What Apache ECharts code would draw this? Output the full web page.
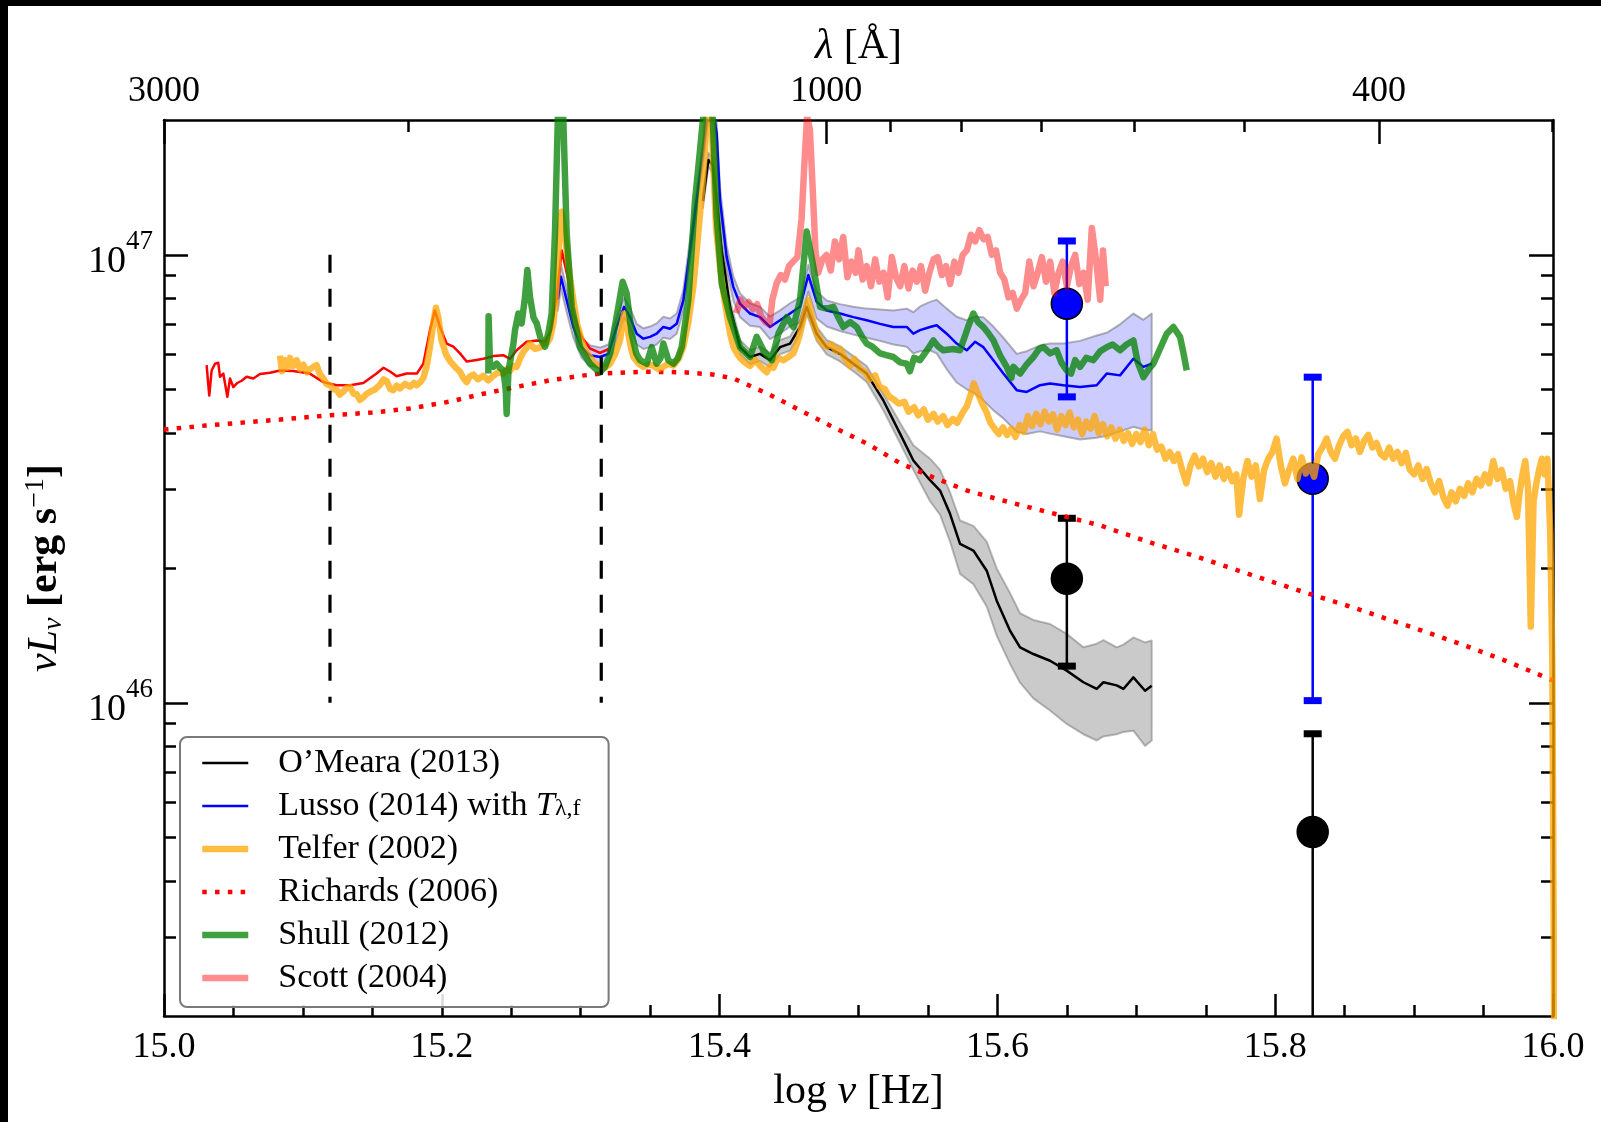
<!DOCTYPE html>
<html>
<head>
<meta charset="utf-8">
<script src="https://cdn.jsdelivr.net/npm/echarts@6/dist/echarts.min.js"></script>
<style>
  html, body { margin: 0; padding: 0; background: #fff; }
  #chart { width: 1601px; height: 1122px; }
</style>
</head>
<body>
<div id="chart"></div>
<script>
// Quasar composite spectra: log nu [Hz] vs log10(nu L_nu [erg/s]).

// Richards (2006) mean SED
const richards = [[15.000,46.610],[15.030,46.619],[15.062,46.627],[15.090,46.634],[15.1195,46.642],[15.150,46.648],[15.177,46.657],[15.205,46.672],[15.230,46.690],[15.255,46.706],[15.278,46.720],[15.300,46.730],[15.314,46.735],[15.345,46.739],[15.374,46.738],[15.395,46.733],[15.410,46.724],[15.434,46.691],[15.458,46.653],[15.482,46.615],[15.506,46.579],[15.530,46.535],[15.554,46.503],[15.578,46.474],[15.600,46.455],[15.626,46.434],[15.650,46.415],[15.674,46.396],[15.712,46.356],[15.740,46.330],[15.767,46.302],[15.800,46.268],[15.828,46.240],[15.855,46.214],[15.878,46.190],[15.905,46.162],[15.933,46.132],[15.965,46.095],[16.000,46.050]];

// optical composite (thin red)
const opticalComposite = [[15.0307,46.754],[15.0316,46.720],[15.0326,46.686],[15.0343,46.742],[15.0367,46.757],[15.0391,46.759],[15.0403,46.728],[15.0427,46.735],[15.0456,46.683],[15.0475,46.724],[15.0499,46.705],[15.0528,46.714],[15.0559,46.719],[15.0595,46.728],[15.0643,46.724],[15.0691,46.734],[15.0763,46.737],[15.0835,46.742],[15.093,46.741],[15.105,46.735],[15.1147,46.716],[15.1243,46.709],[15.134,46.709],[15.1435,46.714],[15.153,46.735],[15.158,46.748],[15.163,46.739],[15.1675,46.729],[15.1747,46.735],[15.182,46.735],[15.1867,46.757],[15.1915,46.832],[15.195,46.876],[15.1987,46.839],[15.2035,46.802],[15.2083,46.795],[15.2131,46.780],[15.2179,46.762],[15.2239,46.765],[15.2299,46.768],[15.2371,46.774],[15.2443,46.776],[15.2491,46.768],[15.2539,46.787],[15.2611,46.806],[15.2683,46.809],[15.2743,46.806],[15.2791,46.835],[15.2832,46.921],[15.2863,47.010],[15.2911,46.944],[15.2947,46.869],[15.3007,46.817],[15.3067,46.791],[15.3139,46.781],[15.3211,46.791]];

// Telfer (2002)
const telfer = [[15.0835,46.775],[15.0850,46.740],[15.0870,46.765],[15.0890,46.748],[15.0907,46.770],[15.0930,46.752],[15.0955,46.765],[15.0980,46.745],[15.1003,46.755],[15.1030,46.738],[15.1051,46.745],[15.1075,46.750],[15.1099,46.754],[15.1120,46.735],[15.1147,46.724],[15.1170,46.712],[15.1195,46.709],[15.1220,46.700],[15.1243,46.699],[15.1265,46.688],[15.1291,46.695],[15.1315,46.703],[15.1339,46.705],[15.1365,46.690],[15.1387,46.689],[15.1410,46.676],[15.1435,46.682],[15.1460,46.690],[15.1483,46.694],[15.1520,46.700],[15.1555,46.710],[15.1580,46.722],[15.1603,46.718],[15.1630,46.700],[15.1651,46.698],[15.1675,46.708],[15.1699,46.702],[15.1735,46.712],[15.1771,46.706],[15.1800,46.714],[15.1819,46.709],[15.1845,46.716],[15.1867,46.725],[15.1890,46.750],[15.1915,46.795],[15.1940,46.850],[15.1958,46.882],[15.1975,46.860],[15.1999,46.809],[15.2030,46.778],[15.2059,46.763],[15.2095,46.750],[15.2131,46.739],[15.2155,46.725],[15.2179,46.716],[15.2200,46.728],[15.2227,46.733],[15.2260,46.722],[15.2299,46.730],[15.2335,46.720],[15.2371,46.730],[15.2405,46.738],[15.2443,46.735],[15.2470,46.745],[15.2491,46.741],[15.2515,46.752],[15.2539,46.750],[15.2565,46.770],[15.2587,46.783],[15.2610,46.792],[15.2635,46.802],[15.2670,46.790],[15.2707,46.793],[15.2735,46.805],[15.2755,46.802],[15.2780,46.815],[15.2803,46.847],[15.2820,46.900],[15.2835,46.980],[15.2850,47.060],[15.2863,47.096],[15.2880,47.060],[15.2899,47.010],[15.2925,46.945],[15.2947,46.899],[15.2975,46.845],[15.3007,46.809],[15.3035,46.785],[15.3067,46.772],[15.3100,46.758],[15.3139,46.750],[15.3175,46.748],[15.3211,46.757],[15.3250,46.780],[15.3283,46.809],[15.3300,46.850],[15.3312,46.869],[15.3328,46.850],[15.3343,46.824],[15.3360,46.795],[15.3379,46.772],[15.3415,46.758],[15.3451,46.750],[15.3490,46.755],[15.3523,46.753],[15.3560,46.745],[15.3595,46.750],[15.3630,46.757],[15.3667,46.753],[15.3705,46.768],[15.3739,46.795],[15.3775,46.850],[15.3811,46.929],[15.3835,47.010],[15.3859,47.092],[15.3880,47.170],[15.3895,47.234],[15.3910,47.330],[15.3925,47.400],[15.3940,47.330],[15.3955,47.197],[15.3975,47.060],[15.4003,46.973],[15.4030,46.910],[15.4051,46.869],[15.4075,46.825],[15.4099,46.795],[15.4125,46.780],[15.4147,46.770],[15.4180,46.760],[15.4219,46.752],[15.4255,46.765],[15.4291,46.752],[15.4315,46.745],[15.4339,46.738],[15.4365,46.752],[15.4387,46.748],[15.4420,46.770],[15.4459,46.765],[15.4495,46.772],[15.4531,46.780],[15.4555,46.800],[15.4579,46.824],[15.4605,46.860],[15.4639,46.899],[15.4665,46.860],[15.4699,46.824],[15.4735,46.805],[15.4771,46.795],[15.4805,46.800],[15.4840,46.785],[15.4867,46.790],
[15.490,46.770],[15.494,46.752],[15.497,46.768],[15.501,46.745],[15.505,46.738],[15.508,46.722],[15.512,46.731],[15.515,46.706],[15.519,46.700],[15.522,46.684],[15.526,46.676],[15.529,46.668],[15.533,46.672],[15.536,46.650],[15.540,46.660],[15.543,46.642],[15.547,46.655],[15.550,46.632],[15.554,46.645],[15.557,46.628],[15.561,46.640],[15.564,46.620],[15.568,46.634],[15.571,46.625],[15.575,46.648],[15.578,46.662],[15.581,46.690],[15.583,46.713],[15.586,46.690],[15.589,46.668],[15.592,46.650],[15.595,46.625],[15.598,46.612],[15.601,46.600],[15.604,46.615],[15.607,46.598],[15.610,46.612],[15.613,46.594],[15.616,46.620],[15.619,46.605],[15.622,46.640],[15.625,46.618],[15.628,46.645],[15.631,46.622],[15.634,46.650],[15.637,46.628],[15.640,46.644],[15.643,46.610],[15.646,46.640],[15.649,46.620],[15.652,46.648],[15.655,46.615],[15.658,46.632],[15.661,46.600],[15.664,46.628],[15.667,46.612],[15.670,46.640],[15.673,46.602],[15.676,46.622],[15.679,46.595],[15.682,46.615],[15.685,46.590],[15.688,46.610],[15.691,46.585],[15.694,46.602],[15.697,46.578],[15.700,46.600],[15.703,46.582],[15.706,46.610],[15.709,46.575],[15.712,46.600],[15.715,46.565],[15.718,46.572],[15.721,46.545],[15.724,46.560],[15.727,46.540],[15.730,46.555],[15.733,46.520],[15.736,46.490],[15.739,46.530],[15.742,46.552],[15.745,46.528],[15.748,46.545],[15.751,46.515],[15.754,46.535],[15.757,46.505],[15.760,46.530],[15.763,46.500],[15.766,46.522],[15.769,46.495],[15.772,46.510],[15.774,46.420],[15.777,46.500],[15.780,46.540],[15.783,46.505],[15.786,46.530],[15.789,46.455],[15.792,46.520],[15.795,46.545],[15.798,46.560],[15.801,46.590],[15.804,46.530],[15.807,46.490],[15.810,46.520],[15.813,46.545],[15.816,46.500],[15.819,46.548],[15.822,46.512],[15.825,46.530],[15.828,46.505],[15.831,46.555],[15.834,46.570],[15.837,46.590],[15.840,46.560],[15.843,46.545],[15.846,46.575],[15.849,46.595],[15.852,46.605],[15.855,46.575],[15.858,46.590],[15.861,46.560],[15.864,46.585],[15.867,46.598],[15.870,46.570],[15.873,46.580],[15.876,46.555],[15.879,46.548],[15.882,46.570],[15.885,46.545],[15.888,46.560],[15.891,46.535],[15.894,46.558],[15.897,46.520],[15.900,46.510],[15.903,46.530],[15.906,46.500],[15.909,46.522],[15.912,46.490],[15.915,46.470],[15.918,46.495],[15.921,46.460],[15.924,46.440],[15.927,46.470],[15.930,46.450],[15.933,46.478],[15.936,46.462],[15.939,46.490],[15.942,46.470],[15.945,46.500],[15.948,46.485],[15.951,46.510],[15.954,46.490],[15.957,46.540],[15.960,46.500],[15.963,46.520],[15.966,46.478],[15.969,46.495],[15.972,46.440],[15.974,46.415],[15.976,46.470],[15.978,46.510],[15.980,46.540],[15.982,46.480],[15.984,46.170],[15.986,46.450],[15.988,46.490],[15.990,46.520],[15.992,46.545],[15.994,46.510],[15.996,46.545],[15.998,46.380],[15.9995,46.100],[16.001,45.200]];

// Shull (2012)
const shull = [[15.2335,46.735],[15.2337,46.863],[15.2347,46.757],[15.2371,46.750],[15.2395,46.757],[15.2420,46.748],[15.2443,46.742],[15.2460,46.700],[15.2467,46.645],[15.2480,46.742],[15.2491,46.760],[15.2515,46.800],[15.2527,46.832],[15.2551,46.869],[15.2575,46.847],[15.2599,46.906],[15.2616,46.966],[15.2635,46.906],[15.2660,46.860],[15.2683,46.847],[15.2710,46.815],[15.2743,46.795],[15.2770,46.830],[15.2791,46.869],[15.2815,47.050],[15.2835,47.300],[15.2855,47.500],[15.2875,47.300],[15.2899,47.048],[15.2935,46.884],[15.2995,46.794],[15.3067,46.757],[15.3110,46.745],[15.3139,46.738],[15.3175,46.750],[15.3211,46.779],[15.3271,46.884],[15.3302,46.940],[15.3331,46.914],[15.3367,46.824],[15.3400,46.780],[15.3427,46.765],[15.3475,46.757],[15.3511,46.794],[15.3547,46.757],[15.3575,46.770],[15.3595,46.802],[15.3631,46.765],[15.3667,46.757],[15.3700,46.770],[15.3727,46.794],[15.3775,46.899],[15.3823,47.122],[15.3859,47.234],[15.3895,47.350],[15.3920,47.500],[15.3955,47.271],[15.3979,47.085],[15.4015,46.936],[15.4075,46.861],[15.4147,46.794],[15.4219,46.772],[15.4267,46.817],[15.4315,46.787],[15.4375,46.765],[15.4423,46.824],[15.4483,46.861],[15.4531,46.839],[15.4579,46.899],[15.4627,47.052],[15.4675,46.973],[15.4723,46.884],[15.4771,46.880],[15.4819,46.884],[15.4855,46.860],[15.4891,46.839],[15.4940,46.850],[15.4987,46.839],[15.5030,46.815],[15.5059,46.802],[15.5100,46.795],[15.5155,46.780],[15.5200,46.776],[15.5251,46.772],[15.5300,46.760],[15.5347,46.757],[15.5370,46.740],[15.5400,46.770],[15.5443,46.765],[15.5500,46.790],[15.5539,46.809],[15.5575,46.795],[15.5611,46.787],[15.5680,46.790],[15.5731,46.787],[15.5790,46.840],[15.5827,46.869],[15.5860,46.850],[15.5899,46.839],[15.5935,46.825],[15.5971,46.809],[15.6020,46.775],[15.6067,46.750],[15.6100,46.725],[15.6115,46.750],[15.6163,46.735],[15.6210,46.755],[15.6259,46.772],[15.6300,46.790],[15.6331,46.794],[15.6380,46.780],[15.6427,46.787],[15.6460,46.760],[15.6499,46.742],[15.6530,46.735],[15.6560,46.765],[15.6595,46.750],[15.6640,46.770],[15.6691,46.765],[15.6740,46.785],[15.6787,46.794],[15.6830,46.800],[15.6883,46.787],[15.6930,46.800],[15.6979,46.809],[15.7010,46.760],[15.7051,46.727],[15.7090,46.745],[15.7123,46.757],[15.7170,46.790],[15.7219,46.824],[15.7267,46.839],[15.7315,46.817],[15.7340,46.780],[15.7363,46.742]];

// Scott (2004)
const scott = [[15.412,46.870],[15.415,46.900],[15.418,46.885],[15.421,46.895],[15.424,46.878],[15.427,46.890],[15.430,46.862],[15.433,46.850],[15.436,46.845],[15.438,46.900],[15.441,46.936],[15.444,46.955],[15.447,46.945],[15.450,46.975],[15.453,46.985],[15.456,46.995],[15.459,47.080],[15.461,47.200],[15.463,47.310],[15.465,47.280],[15.467,47.150],[15.469,47.010],[15.471,46.960],[15.474,46.990],[15.477,47.000],[15.480,46.965],[15.483,47.030],[15.486,46.990],[15.489,47.040],[15.492,46.950],[15.495,46.985],[15.498,46.960],[15.500,47.010],[15.503,46.945],[15.506,46.975],[15.509,46.930],[15.512,46.990],[15.515,46.940],[15.518,46.960],[15.521,46.905],[15.524,46.995],[15.527,46.950],[15.530,46.930],[15.533,46.975],[15.536,46.925],[15.539,46.965],[15.542,46.940],[15.545,46.975],[15.548,46.920],[15.551,46.960],[15.554,46.990],[15.557,46.995],[15.560,46.955],[15.563,46.975],[15.566,46.935],[15.569,46.985],[15.572,46.960],[15.575,47.000],[15.578,47.010],[15.581,47.045],[15.584,47.030],[15.587,47.055],[15.590,47.035],[15.593,47.040],[15.596,47.000],[15.599,47.010],[15.602,46.960],[15.605,46.945],[15.608,46.905],[15.611,46.915],[15.614,46.880],[15.617,46.900],[15.620,46.915],[15.623,46.985],[15.626,46.930],[15.629,46.960],[15.632,46.995],[15.635,46.940],[15.638,46.985],[15.641,46.915],[15.644,46.960],[15.647,46.985],[15.650,46.930],[15.653,46.975],[15.656,47.000],[15.659,46.935],[15.662,46.960],[15.665,46.900],[15.668,47.060],[15.671,46.990],[15.674,46.900],[15.676,47.010],[15.678,46.930]];

// Lusso (2014) with T_lambda,f: mean, upper and lower envelope
const lussoNu = [15.2835,15.2858,15.2899,15.2947,15.3007,15.3067,15.3139,15.3199,15.3259,15.3312,15.3355,15.3403,15.3451,15.3499,15.3547,15.3595,15.3643,15.3691,15.3739,15.3787,15.3835,15.3883,15.3919,15.3950,15.3979,15.4003,15.4051,15.4099,15.4147,15.4219,15.4291,15.4363,15.4435,15.4507,15.4579,15.4639,15.4699,15.4771,15.4867,15.4963,15.5059,15.5155,15.5251,15.5347,15.5395,15.5443,15.5515,15.5563,15.5635,15.5707,15.5779,15.5839,15.5899,15.5971,15.6043,15.6139,15.6211,15.6307,15.6379,15.6475,15.6595,15.6715,15.6787,15.6883,15.6979,15.7051,15.7111];
const lussoL  = [46.900,46.951,46.899,46.839,46.794,46.776,46.772,46.779,46.839,46.884,46.861,46.824,46.813,46.817,46.824,46.839,46.835,46.846,46.899,47.010,47.122,47.234,47.330,47.330,47.271,47.122,46.995,46.928,46.891,46.869,46.861,46.839,46.854,46.869,46.884,46.955,46.895,46.876,46.869,46.861,46.854,46.846,46.839,46.839,46.824,46.832,46.839,46.843,46.824,46.802,46.787,46.806,46.794,46.765,46.735,46.698,46.694,46.709,46.713,46.709,46.705,46.709,46.735,46.731,46.768,46.750,46.757];
const lussoHi = [46.925,46.978,46.925,46.862,46.815,46.798,46.793,46.800,46.861,46.905,46.883,46.846,46.836,46.840,46.847,46.862,46.858,46.869,46.922,47.035,47.145,47.258,47.355,47.355,47.295,47.150,47.020,46.952,46.914,46.892,46.884,46.862,46.876,46.892,46.905,46.978,46.918,46.898,46.890,46.884,46.880,46.878,46.876,46.880,46.872,46.885,46.895,46.900,46.880,46.862,46.854,46.862,46.861,46.840,46.815,46.779,46.785,46.798,46.802,46.802,46.808,46.820,46.826,46.845,46.869,46.855,46.869];
const lussoLo = [46.875,46.925,46.872,46.815,46.770,46.752,46.748,46.755,46.812,46.860,46.838,46.800,46.790,46.794,46.800,46.815,46.812,46.824,46.875,46.985,47.098,47.210,47.305,47.300,47.240,47.095,46.968,46.898,46.861,46.842,46.839,46.812,46.824,46.840,46.850,46.918,46.858,46.840,46.830,46.822,46.815,46.808,46.800,46.795,46.780,46.785,46.787,46.780,46.745,46.715,46.700,46.690,46.675,46.653,46.635,46.605,46.600,46.606,46.601,46.595,46.588,46.592,46.596,46.606,46.616,46.610,46.608];

// O'Meara (2013): mean, upper and lower envelope
const omearaNu = [15.3880,15.3919,15.3950,15.3979,15.4015,15.4075,15.4147,15.4219,15.4291,15.4363,15.4435,15.4507,15.4579,15.4627,15.4699,15.4771,15.4867,15.4963,15.5059,15.5179,15.5299,15.5395,15.5515,15.5587,15.5659,15.5731,15.5827,15.5923,15.5995,15.6091,15.6163,15.6259,15.6379,15.6499,15.6619,15.6715,15.6763,15.6859,15.6907,15.6979,15.7063,15.7111];
const omearaL  = [47.120,47.212,47.200,47.122,47.010,46.884,46.794,46.772,46.779,46.765,46.794,46.802,46.839,46.884,46.824,46.794,46.779,46.757,46.735,46.675,46.601,46.541,46.497,46.474,46.422,46.355,46.340,46.295,46.228,46.161,46.124,46.109,46.094,46.072,46.046,46.031,46.046,46.039,46.031,46.057,46.027,46.038];
const omearaHi = [47.135,47.228,47.216,47.138,47.026,46.900,46.810,46.788,46.795,46.781,46.810,46.818,46.855,46.900,46.840,46.810,46.796,46.774,46.752,46.690,46.625,46.575,46.545,46.520,46.470,46.407,46.395,46.360,46.300,46.245,46.200,46.185,46.176,46.154,46.124,46.132,46.140,46.124,46.130,46.146,46.135,46.139];
const omearaLo = [47.105,47.196,47.184,47.106,46.994,46.868,46.778,46.756,46.763,46.749,46.778,46.786,46.823,46.868,46.808,46.778,46.762,46.740,46.716,46.653,46.580,46.520,46.450,46.420,46.360,46.288,46.265,46.215,46.150,46.087,46.045,46.010,45.983,45.953,45.930,45.916,45.925,45.930,45.935,45.938,45.904,45.916];

// single-band estimates: [log nu, value, lower, upper]
const estimatesBlue  = [[15.650, 46.891, 46.683, 47.031], [15.827, 46.500, 46.005, 46.727]];
const estimatesBlack = [[15.650, 46.277, 46.082, 46.412], [15.827, 45.712, 45.000, 45.931]];

// marked rest-frame positions (dashed)
const markerNu = [15.1195, 15.3148];
const markerRange = [47, 46];

// tick values
const lambdaMajor = [3000, 1000, 400];
const lambdaMinor = [2000, 900, 800, 700, 600, 500, 300];
const logLMajor = [46, 47];
const logLMinorFactors = [2, 3, 4, 5, 6, 7, 8, 9];

// ---------------------------------------------------------------------
const SERIF = '"Liberation Serif", "DejaVu Serif", "Times New Roman", serif';
const C_ANGSTROM = 2.99792458e18;
const X_MIN = 15, X_MAX = 16;
const Y_MIN = Math.log10(2e45), Y_MAX = Math.log10(2e47);
const nuOfLambda = l => Math.min(X_MAX, Math.max(X_MIN, Math.log10(C_ANGSTROM / l)));
const logLMinor = [];
[45, 46].forEach(e => logLMinorFactors.forEach(k => {
  const v = e + Math.log10(k);
  if (v > Y_MIN + 1e-6 && v < Y_MAX - 1e-6) logLMinor.push(v);
}));

const AX = { color: '#000', width: 2.5 };
const zip = (xs, ys) => xs.map((x, i) => [x, ys[i]]);

function lineSeries(name, data, color, width, z, extra) {
  return Object.assign({
    name, type: 'line', data, z, symbol: 'none', showSymbol: false, silent: true,
    itemStyle: { color }, lineStyle: { color, width, join: 'round', cap: 'butt' },
    emphasis: { disabled: true }
  }, extra || {});
}

function bandSeries(name, xs, hi, lo, fill, edge, z) {
  return {
    name, type: 'custom', coordinateSystem: 'cartesian2d', silent: true, z,
    data: xs.map((x, i) => [x, hi[i], lo[i]]),
    encode: { x: 0, y: [1, 2] },
    renderItem(params, api) {
      if (params.dataIndex !== 0) return null;
      const cs = params.coordSys;
      const pts = [];
      for (let i = 0; i < xs.length; i++) pts.push(api.coord([xs[i], hi[i]]));
      for (let i = xs.length - 1; i >= 0; i--) pts.push(api.coord([xs[i], lo[i]]));
      return {
        type: 'group',
        clipPath: { type: 'rect', shape: { x: cs.x, y: cs.y, width: cs.width, height: cs.height } },
        children: [{ type: 'polygon', shape: { points: pts },
          style: { fill, stroke: edge, lineWidth: 2, lineJoin: 'round' } }]
      };
    }
  };
}

function estimateSeries(name, rows, color, z) {
  return {
    name, type: 'custom', coordinateSystem: 'cartesian2d', silent: true, z,
    data: rows, encode: { x: 0, y: [1, 2, 3] },
    renderItem(params, api) {
      const cs = params.coordSys;
      const x = api.value(0);
      const p = api.coord([x, api.value(1)]);
      const pLo = api.coord([x, api.value(2)]);
      const pHi = api.coord([x, api.value(3)]);
      const top = cs.y, bot = cs.y + cs.height;
      const kids = [{ type: 'line',
        shape: { x1: p[0], y1: Math.max(top, pHi[1]), x2: p[0], y2: Math.min(bot, pLo[1]) },
        style: { stroke: color, lineWidth: 2.5 } }];
      [pHi, pLo].forEach(c => {
        if (c[1] >= top && c[1] <= bot) kids.push({ type: 'rect',
          shape: { x: c[0] - 9, y: c[1] - 3.5, width: 18, height: 7 }, style: { fill: color } });
      });
      kids.push({ type: 'circle', shape: { cx: p[0], cy: p[1], r: 15.5 },
        style: { fill: color, stroke: '#000', lineWidth: 1.5 } });
      return { type: 'group', children: kids };
    }
  };
}

const COL = {
  omeara: '#000000', lusso: '#0000ff', telfer: 'rgba(255,165,0,0.75)',
  richards: '#ff0000', shull: 'rgba(0,128,0,0.75)', scott: 'rgba(255,0,0,0.45)'
};
const NAMES = {
  omeara: 'O\u2019Meara (2013)', lusso: 'Lusso (2014)', telfer: 'Telfer (2002)',
  richards: 'Richards (2006)', shull: 'Shull (2012)', scott: 'Scott (2004)'
};
const DOT = [4.5, 8.3];
const THICK = 6.5;

const series = [
  bandSeries('Lusso envelope', lussoNu, lussoHi, lussoLo, 'rgba(0,0,255,0.2)', 'rgba(90,90,90,0.45)', 2),
  bandSeries('O\u2019Meara envelope', omearaNu, omearaHi, omearaLo, 'rgba(128,128,128,0.42)', 'rgba(90,90,90,0.4)', 2),
  estimateSeries('estimates (blue)', estimatesBlue, '#0000ff', 3),
  estimateSeries('estimates (black)', estimatesBlack, '#000000', 3),
  lineSeries(NAMES.omeara, zip(omearaNu, omearaL), COL.omeara, 2.5, 4),
  lineSeries(NAMES.lusso, zip(lussoNu, lussoL), COL.lusso, 2.5, 4),
  lineSeries(NAMES.richards, richards, COL.richards, 4.5, 5,
    { lineStyle: { color: COL.richards, width: 4.5, type: DOT, cap: 'butt' } }),
  lineSeries('optical composite', opticalComposite, '#ff0000', 2.5, 5),
  lineSeries(NAMES.telfer, telfer, COL.telfer, THICK, 6),
  lineSeries(NAMES.scott, scott, COL.scott, THICK, 7),
  lineSeries(NAMES.shull, shull, COL.shull, THICK, 8)
];
markerNu.forEach((nu, i) => series.push(lineSeries('marker ' + (i + 1),
  markerRange.map(v => [nu, v]), '#000', 3.2, 9,
  { lineStyle: { color: '#000', width: 3.2, type: [18, 16], cap: 'butt' } })));

const legendItem = (key, width, extraLine) => ({
  name: NAMES[key],
  lineStyle: Object.assign({ color: COL[key], width, opacity: 1 }, extraLine || {})
});

const option = {
  animation: false,
  backgroundColor: '#ffffff',
  textStyle: { fontFamily: SERIF, color: '#000' },
  grid: { left: 164, top: 120, width: 1389, height: 896, show: false },
  legend: {
    orient: 'vertical', left: 180, top: 737, z: 20,
    padding: [9, 28, 12, 19], itemGap: 9, itemWidth: 46, itemHeight: 14,
    backgroundColor: 'rgba(255,255,255,0.85)', borderColor: '#7a7a7a', borderWidth: 2, borderRadius: 7,
    selectedMode: false,
    itemStyle: { opacity: 0 },
    data: [
      legendItem('omeara', 2.5), legendItem('lusso', 2.5), legendItem('telfer', THICK),
      legendItem('richards', 4.5, { type: DOT }), legendItem('shull', THICK), legendItem('scott', THICK)
    ],
    formatter: name => name === NAMES.lusso
      ? '{g|}{t|' + name + ' with }{i|T}{s|\u03bb,f}'
      : '{g|}{t|' + name + '}',
    textStyle: {
      fontSize: 34, fontFamily: SERIF,
      rich: {
        g: { width: 25, fontSize: 34, lineHeight: 30 },
        t: { fontFamily: SERIF, fontSize: 34, lineHeight: 30, color: '#000' },
        i: { fontFamily: SERIF, fontSize: 34, fontStyle: 'italic', lineHeight: 30, color: '#000' },
        s: { fontFamily: SERIF, fontSize: 24, lineHeight: 14, verticalAlign: 'bottom', color: '#000' }
      }
    }
  },
  xAxis: [
    {
      type: 'value', position: 'bottom', min: X_MIN, max: X_MAX, interval: 0.2,
      axisLine: { show: true, onZero: false, lineStyle: AX },
      axisTick: { show: true, inside: true, length: 22, lineStyle: AX },
      minorTick: { show: true, splitNumber: 4, length: 11, lineStyle: AX },
      splitLine: { show: false }, minorSplitLine: { show: false },
      axisLabel: { margin: 14, color: '#000', fontFamily: SERIF, fontSize: 36, formatter: v => v.toFixed(1) },
      name: '{r|log }{i|\u03bd}{r| [Hz]}', nameLocation: 'middle', nameGap: 50,
      nameTextStyle: { fontSize: 42, rich: {
        r: { fontFamily: SERIF, fontSize: 42, color: '#000' },
        i: { fontFamily: SERIF, fontSize: 42, fontStyle: 'italic', color: '#000' } } }
    },
    {
      type: 'value', position: 'top', min: X_MIN, max: X_MAX,
      axisLine: { show: true, onZero: false, lineStyle: AX },
      axisTick: { show: true, inside: true, length: 24, lineStyle: AX, customValues: lambdaMajor.map(nuOfLambda) },
      splitLine: { show: false },
      axisLabel: {
        margin: 10, color: '#000', fontFamily: SERIF, fontSize: 36,
        customValues: lambdaMajor.map(nuOfLambda),
        formatter: v => {
          const l = lambdaMajor.find(l => Math.abs(nuOfLambda(l) - v) < 1e-4);
          return l == null ? '' : String(l);
        }
      },
      name: '{i|\u03bb}{r| [\u00c5]}', nameLocation: 'middle', nameGap: 52,
      nameTextStyle: { fontSize: 42, rich: {
        r: { fontFamily: SERIF, fontSize: 42, color: '#000' },
        i: { fontFamily: SERIF, fontSize: 42, fontStyle: 'italic', color: '#000' } } }
    },
    {
      type: 'value', position: 'top', min: X_MIN, max: X_MAX,
      axisLine: { show: false, onZero: false },
      axisTick: { show: true, inside: true, length: 12, lineStyle: AX, customValues: lambdaMinor.map(nuOfLambda) },
      axisLabel: { show: false }, splitLine: { show: false }
    }
  ],
  yAxis: [
    {
      type: 'value', position: 'left', min: Y_MIN, max: Y_MAX,
      axisLine: { show: true, onZero: false, lineStyle: AX },
      axisTick: { show: true, inside: true, length: 24, lineStyle: AX, customValues: logLMajor },
      splitLine: { show: false },
      axisLabel: {
        margin: 11, customValues: logLMajor, fontSize: 38, fontFamily: SERIF, color: '#000',
        formatter: v => '{b|10}{s|' + Math.round(v) + '}',
        rich: {
          b: { fontFamily: SERIF, fontSize: 38, lineHeight: 52, verticalAlign: 'bottom', color: '#000' },
          s: { fontFamily: SERIF, fontSize: 27, lineHeight: 20, verticalAlign: 'top', color: '#000' }
        }
      },
      name: '{i|\u03bdL}{sb|\u03bd}{b| [erg s}{sp|\u22121}{b|]}',
      nameLocation: 'middle', nameRotate: 90, nameGap: 96,
      nameTextStyle: { fontSize: 42, rich: {
        i: { fontFamily: SERIF, fontSize: 42, fontStyle: 'italic', lineHeight: 46, color: '#000' },
        sb: { fontFamily: SERIF, fontSize: 28, fontStyle: 'italic', lineHeight: 22, verticalAlign: 'bottom', color: '#000' },
        b: { fontFamily: SERIF, fontSize: 42, fontWeight: 'bold', lineHeight: 46, color: '#000' },
        sp: { fontFamily: SERIF, fontSize: 28, lineHeight: 22, verticalAlign: 'top', color: '#000' } } }
    },
    {
      type: 'value', position: 'left', min: Y_MIN, max: Y_MAX,
      axisLine: { show: false, onZero: false },
      axisTick: { show: true, inside: true, length: 12, lineStyle: AX, customValues: logLMinor },
      axisLabel: { show: false }, splitLine: { show: false }
    },
    {
      type: 'value', position: 'right', min: Y_MIN, max: Y_MAX,
      axisLine: { show: true, onZero: false, lineStyle: AX },
      axisTick: { show: true, inside: true, length: 24, lineStyle: AX, customValues: logLMajor },
      axisLabel: { show: false }, splitLine: { show: false }
    },
    {
      type: 'value', position: 'right', min: Y_MIN, max: Y_MAX,
      axisLine: { show: false, onZero: false },
      axisTick: { show: true, inside: true, length: 12, lineStyle: AX, customValues: logLMinor },
      axisLabel: { show: false }, splitLine: { show: false }
    }
  ],
  graphic: [
    { type: 'rect', left: 0, top: 0, shape: { width: 1601, height: 6 }, style: { fill: '#000' }, silent: true },
    { type: 'rect', left: 0, top: 0, shape: { width: 8, height: 1122 }, style: { fill: '#000' }, silent: true }
  ],
  series
};

const chart = echarts.init(document.getElementById('chart'), null, { renderer: 'canvas' });
chart.setOption(option);
</script>
</body>
</html>
